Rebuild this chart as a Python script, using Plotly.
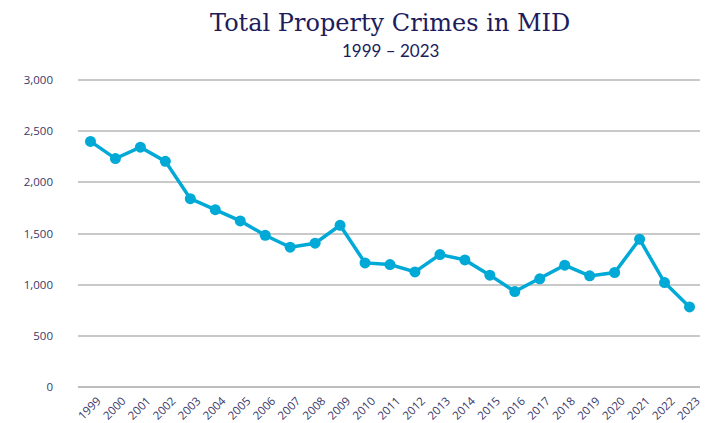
import plotly.graph_objects as go

years = [str(y) for y in range(1999, 2024)]
crimes = [2400, 2232, 2344, 2205, 1840, 1733, 1623, 1483, 1366, 1405, 1580,
          1213, 1197, 1125, 1294, 1242, 1093, 933, 1057, 1190, 1086, 1119,
          1444, 1021, 783]
y_ticks = [0, 500, 1000, 1500, 2000, 2500, 3000]
y_tick_labels = ["0", "500", "1,000", "1,500", "2,000", "2,500", "3,000"]

navy = "#201c5c"
tick_color = "#3a3768"
line_color = "#00a9d6"

fig = go.Figure()
fig.add_trace(go.Scatter(
    x=years, y=crimes, mode="lines+markers",
    line=dict(color=line_color, width=3.5),
    marker=dict(color=line_color, size=11),
    cliponaxis=False,
    showlegend=False,
))

fig.update_layout(
    width=700, height=415,
    margin=dict(l=70, r=6, t=71, b=36),
    paper_bgcolor="white", plot_bgcolor="white",
    xaxis=dict(
        type="category", range=[-0.5, len(years) - 0.5],
        tickangle=-45, showgrid=False, zeroline=False,
        showline=False, ticks="", automargin=False, ticklabelshift=7,
        ticklabelstandoff=4,
        tickfont=dict(family="Open Sans, Arial", size=11.5, color=tick_color),
    ),
    yaxis=dict(
        range=[0, 3010], tickvals=y_ticks, ticktext=y_tick_labels,
        showgrid=True, gridcolor="#c9c9c9", gridwidth=1.6,
        zeroline=True, zerolinecolor="#bdbdbd", zerolinewidth=2,
        showline=False, ticks="", ticklabelstandoff=24, automargin=False,
        tickfont=dict(family="Open Sans, Arial", size=11.5, color=tick_color),
    ),
    annotations=[
        dict(text="Total Property Crimes in MID", xref="paper", yref="paper",
             x=0.5, y=1.182, xanchor="center", yanchor="middle", showarrow=False,
             font=dict(family="DejaVu Serif", size=24, color=navy)),
        dict(text="1999 – 2023", xref="paper", yref="paper",
             x=0.5, y=1.094, xanchor="center", yanchor="middle", showarrow=False,
             font=dict(family="Lato, Open Sans", size=17, color=navy)),
    ],
)

fig.write_html("out.html")
